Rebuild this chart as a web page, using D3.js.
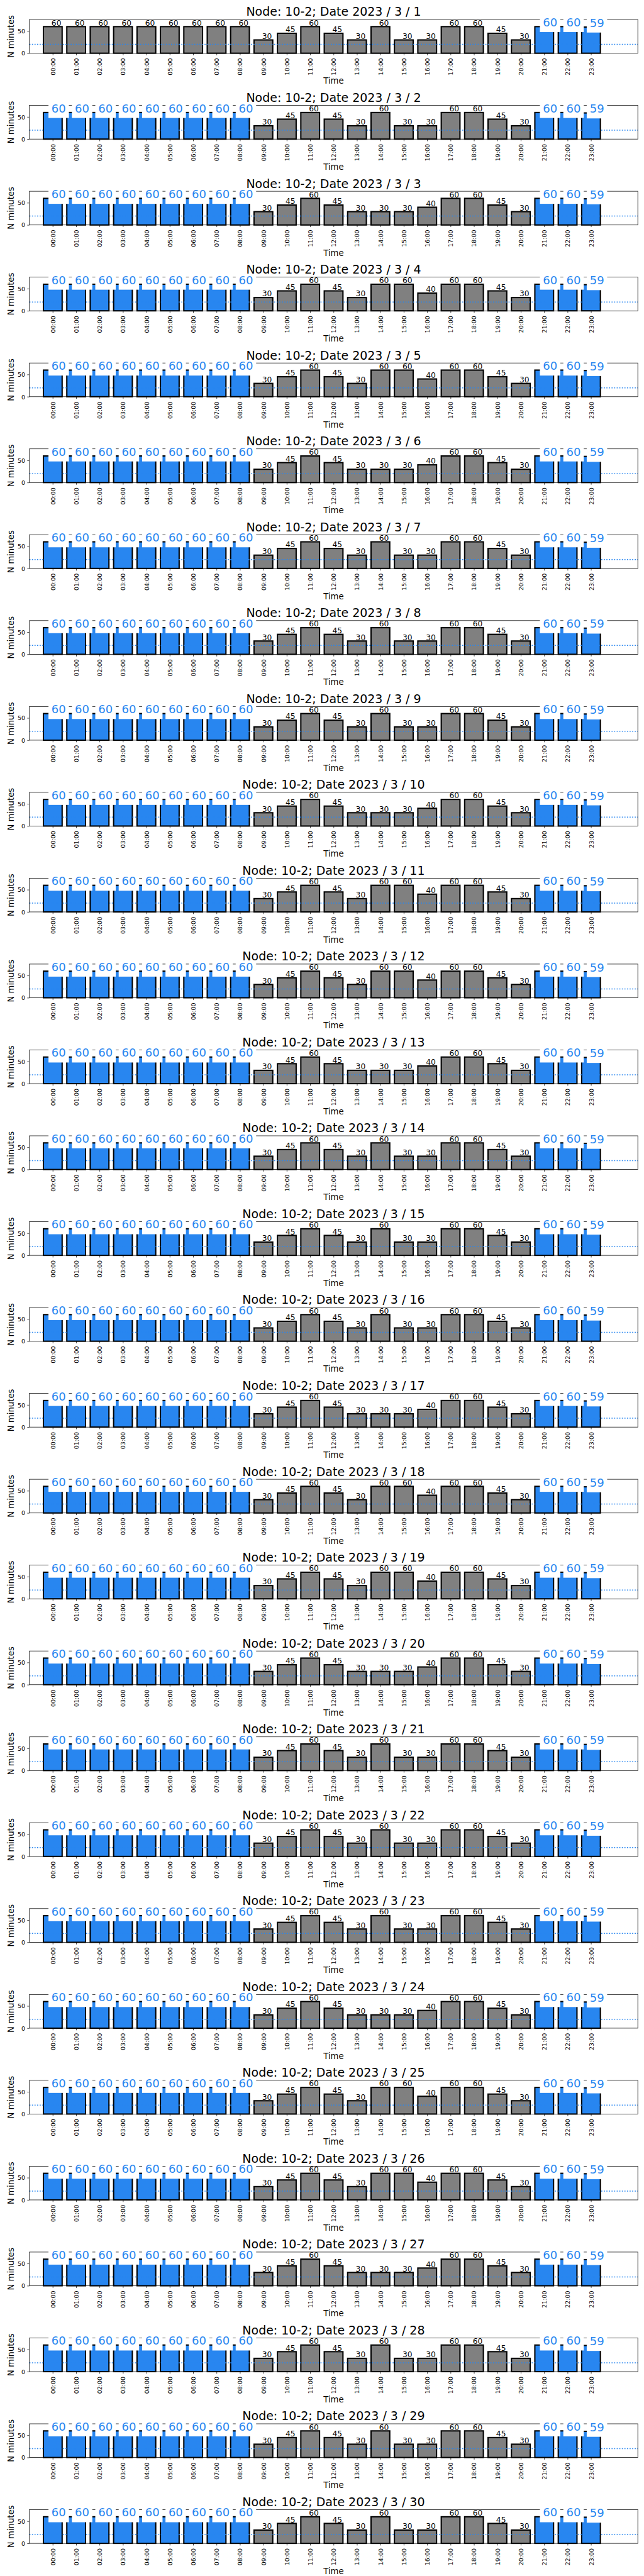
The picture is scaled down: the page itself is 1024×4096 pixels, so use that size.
<!DOCTYPE html>
<html><head><meta charset="utf-8">
<script src="https://cdn.jsdelivr.net/npm/d3@7"></script>
<style>
body{margin:0;background:#fff}
svg{display:block}
text{font-family:"DejaVu Sans",sans-serif}
</style>
</head><body>
<svg id="c" width="1024" height="4096"></svg>
<script>
// ---------- data ----------
const hourLabels = ["00:00","01:00","02:00","03:00","04:00","05:00","06:00","07:00","08:00","09:00","10:00","11:00",
                    "12:00","13:00","14:00","15:00","16:00","17:00","18:00","19:00","20:00","21:00","22:00","23:00"];
const node = "10-2";
const dates = ["2023 / 3 / 1","2023 / 3 / 2","2023 / 3 / 3","2023 / 3 / 4","2023 / 3 / 5","2023 / 3 / 6",
               "2023 / 3 / 7","2023 / 3 / 8","2023 / 3 / 9","2023 / 3 / 10","2023 / 3 / 11","2023 / 3 / 12",
               "2023 / 3 / 13","2023 / 3 / 14","2023 / 3 / 15","2023 / 3 / 16","2023 / 3 / 17","2023 / 3 / 18",
               "2023 / 3 / 19","2023 / 3 / 20","2023 / 3 / 21","2023 / 3 / 22","2023 / 3 / 23","2023 / 3 / 24",
               "2023 / 3 / 25","2023 / 3 / 26","2023 / 3 / 27","2023 / 3 / 28","2023 / 3 / 29","2023 / 3 / 30"];
// minutes per hour, one row per day
const minutes = [
 [60,60,60,60,60,60,60,60,60,30,45,60,45,30,60,30,30,60,60,45,30,60,60,59], // 1
 [60,60,60,60,60,60,60,60,60,30,45,60,45,30,60,30,30,60,60,45,30,60,60,59], // 2
 [60,60,60,60,60,60,60,60,60,30,45,60,45,30,30,30,40,60,60,45,30,60,60,59], // 3
 [60,60,60,60,60,60,60,60,60,30,45,60,45,30,60,60,40,60,60,45,30,60,60,59], // 4
 [60,60,60,60,60,60,60,60,60,30,45,60,45,30,60,60,40,60,60,45,30,60,60,59], // 5
 [60,60,60,60,60,60,60,60,60,30,45,60,45,30,30,30,40,60,60,45,30,60,60,59], // 6
 [60,60,60,60,60,60,60,60,60,30,45,60,45,30,60,30,30,60,60,45,30,60,60,59], // 7
 [60,60,60,60,60,60,60,60,60,30,45,60,45,30,60,30,30,60,60,45,30,60,60,59], // 8
 [60,60,60,60,60,60,60,60,60,30,45,60,45,30,60,30,30,60,60,45,30,60,60,59], // 9
 [60,60,60,60,60,60,60,60,60,30,45,60,45,30,30,30,40,60,60,45,30,60,60,59], // 10
 [60,60,60,60,60,60,60,60,60,30,45,60,45,30,60,60,40,60,60,45,30,60,60,59], // 11
 [60,60,60,60,60,60,60,60,60,30,45,60,45,30,60,60,40,60,60,45,30,60,60,59], // 12
 [60,60,60,60,60,60,60,60,60,30,45,60,45,30,30,30,40,60,60,45,30,60,60,59], // 13
 [60,60,60,60,60,60,60,60,60,30,45,60,45,30,60,30,30,60,60,45,30,60,60,59], // 14
 [60,60,60,60,60,60,60,60,60,30,45,60,45,30,60,30,30,60,60,45,30,60,60,59], // 15
 [60,60,60,60,60,60,60,60,60,30,45,60,45,30,60,30,30,60,60,45,30,60,60,59], // 16
 [60,60,60,60,60,60,60,60,60,30,45,60,45,30,30,30,40,60,60,45,30,60,60,59], // 17
 [60,60,60,60,60,60,60,60,60,30,45,60,45,30,60,60,40,60,60,45,30,60,60,59], // 18
 [60,60,60,60,60,60,60,60,60,30,45,60,45,30,60,60,40,60,60,45,30,60,60,59], // 19
 [60,60,60,60,60,60,60,60,60,30,45,60,45,30,30,30,40,60,60,45,30,60,60,59], // 20
 [60,60,60,60,60,60,60,60,60,30,45,60,45,30,60,30,30,60,60,45,30,60,60,59], // 21
 [60,60,60,60,60,60,60,60,60,30,45,60,45,30,60,30,30,60,60,45,30,60,60,59], // 22
 [60,60,60,60,60,60,60,60,60,30,45,60,45,30,60,30,30,60,60,45,30,60,60,59], // 23
 [60,60,60,60,60,60,60,60,60,30,45,60,45,30,30,30,40,60,60,45,30,60,60,59], // 24
 [60,60,60,60,60,60,60,60,60,30,45,60,45,30,60,60,40,60,60,45,30,60,60,59], // 25
 [60,60,60,60,60,60,60,60,60,30,45,60,45,30,60,60,40,60,60,45,30,60,60,59], // 26
 [60,60,60,60,60,60,60,60,60,30,45,60,45,30,30,30,40,60,60,45,30,60,60,59], // 27
 [60,60,60,60,60,60,60,60,60,30,45,60,45,30,60,30,30,60,60,45,30,60,60,59], // 28
 [60,60,60,60,60,60,60,60,60,30,45,60,45,30,60,30,30,60,60,45,30,60,60,59], // 29
 [60,60,60,60,60,60,60,60,60,30,45,60,45,30,60,30,30,60,60,45,30,60,60,59]  // 30
];
// 1 = highlighted (blue) hour, one row per day
const flagged = [
 [0,0,0,0,0,0,0,0,0,0,0,0,0,0,0,0,0,0,0,0,0,1,1,1],
 [1,1,1,1,1,1,1,1,1,0,0,0,0,0,0,0,0,0,0,0,0,1,1,1],
 [1,1,1,1,1,1,1,1,1,0,0,0,0,0,0,0,0,0,0,0,0,1,1,1],
 [1,1,1,1,1,1,1,1,1,0,0,0,0,0,0,0,0,0,0,0,0,1,1,1],
 [1,1,1,1,1,1,1,1,1,0,0,0,0,0,0,0,0,0,0,0,0,1,1,1],
 [1,1,1,1,1,1,1,1,1,0,0,0,0,0,0,0,0,0,0,0,0,1,1,1],
 [1,1,1,1,1,1,1,1,1,0,0,0,0,0,0,0,0,0,0,0,0,1,1,1],
 [1,1,1,1,1,1,1,1,1,0,0,0,0,0,0,0,0,0,0,0,0,1,1,1],
 [1,1,1,1,1,1,1,1,1,0,0,0,0,0,0,0,0,0,0,0,0,1,1,1],
 [1,1,1,1,1,1,1,1,1,0,0,0,0,0,0,0,0,0,0,0,0,1,1,1],
 [1,1,1,1,1,1,1,1,1,0,0,0,0,0,0,0,0,0,0,0,0,1,1,1],
 [1,1,1,1,1,1,1,1,1,0,0,0,0,0,0,0,0,0,0,0,0,1,1,1],
 [1,1,1,1,1,1,1,1,1,0,0,0,0,0,0,0,0,0,0,0,0,1,1,1],
 [1,1,1,1,1,1,1,1,1,0,0,0,0,0,0,0,0,0,0,0,0,1,1,1],
 [1,1,1,1,1,1,1,1,1,0,0,0,0,0,0,0,0,0,0,0,0,1,1,1],
 [1,1,1,1,1,1,1,1,1,0,0,0,0,0,0,0,0,0,0,0,0,1,1,1],
 [1,1,1,1,1,1,1,1,1,0,0,0,0,0,0,0,0,0,0,0,0,1,1,1],
 [1,1,1,1,1,1,1,1,1,0,0,0,0,0,0,0,0,0,0,0,0,1,1,1],
 [1,1,1,1,1,1,1,1,1,0,0,0,0,0,0,0,0,0,0,0,0,1,1,1],
 [1,1,1,1,1,1,1,1,1,0,0,0,0,0,0,0,0,0,0,0,0,1,1,1],
 [1,1,1,1,1,1,1,1,1,0,0,0,0,0,0,0,0,0,0,0,0,1,1,1],
 [1,1,1,1,1,1,1,1,1,0,0,0,0,0,0,0,0,0,0,0,0,1,1,1],
 [1,1,1,1,1,1,1,1,1,0,0,0,0,0,0,0,0,0,0,0,0,1,1,1],
 [1,1,1,1,1,1,1,1,1,0,0,0,0,0,0,0,0,0,0,0,0,1,1,1],
 [1,1,1,1,1,1,1,1,1,0,0,0,0,0,0,0,0,0,0,0,0,1,1,1],
 [1,1,1,1,1,1,1,1,1,0,0,0,0,0,0,0,0,0,0,0,0,1,1,1],
 [1,1,1,1,1,1,1,1,1,0,0,0,0,0,0,0,0,0,0,0,0,1,1,1],
 [1,1,1,1,1,1,1,1,1,0,0,0,0,0,0,0,0,0,0,0,0,1,1,1],
 [1,1,1,1,1,1,1,1,1,0,0,0,0,0,0,0,0,0,0,0,0,1,1,1],
 [1,1,1,1,1,1,1,1,1,0,0,0,0,0,0,0,0,0,0,0,0,1,1,1]
];
const thresholdLine = 20;
const yTicks = [0, 50];
const yMax = 76;

// ---------- layout (reference pixel units, scaled to window) ----------
const S = 1024 / 1500;
const PITCH = 200, AX_L = 68.4, AX_R = 1485.6, AX_T = 45.5, AX_B = 124;
const GRAY = "#808080", BLUE = "#2886f0";
const FONT = "DejaVu Sans";

const svg = d3.select("#c");
const root = svg.append("g").attr("transform", `scale(${S})`);
const x = d3.scaleLinear().domain([-1, 25]).range([AX_L, AX_R]);
const y = d3.scaleLinear().domain([0, yMax]).range([AX_B, AX_T]);
const BW = (x(1) - x(0)) * 0.8;

dates.forEach((date, d) => {
  const g = root.append("g").attr("transform", `translate(0,${d * PITCH})`);
  const data = minutes[d].map((v, i) => ({ i, v, f: flagged[d][i] }));

  // bars
  g.selectAll("rect.bar").data(data).join("rect").attr("class", "bar")
    .attr("x", p => x(p.i) - BW / 2).attr("y", p => y(p.v))
    .attr("width", BW).attr("height", p => y(0) - y(p.v))
    .attr("fill", p => p.f ? BLUE : GRAY)
    .attr("stroke", "#000").attr("stroke-width", 3);

  // threshold dotted line
  g.append("line").attr("x1", AX_L).attr("x2", AX_R)
    .attr("y1", y(thresholdLine)).attr("y2", y(thresholdLine))
    .attr("stroke", BLUE).attr("stroke-width", 2.2).attr("stroke-dasharray", "2.5,3.5");

  // frame
  g.append("rect").attr("x", AX_L).attr("y", AX_T).attr("width", AX_R - AX_L).attr("height", AX_B - AX_T)
    .attr("fill", "none").attr("stroke", "#000").attr("stroke-width", 1.1);

  // x axis
  const xa = g.append("g").attr("transform", `translate(0,${AX_B})`)
    .call(d3.axisBottom(x).tickValues(d3.range(24)).tickFormat(i => hourLabels[i]).tickSize(4.9).tickSizeOuter(0));
  xa.attr("font-family", FONT).attr("font-size", 13.9);
  xa.select(".domain").remove();
  xa.selectAll("line").attr("stroke-width", 1.1);
  xa.selectAll("text").attr("transform", "rotate(-90)").attr("text-anchor", "end")
    .attr("x", -11.5).attr("y", 0).attr("dy", "0.36em").attr("fill", "#000");

  // y axis
  const ya = g.append("g").attr("transform", `translate(${AX_L},0)`)
    .call(d3.axisLeft(y).tickValues(yTicks).tickSize(4.9).tickSizeOuter(0));
  ya.attr("font-family", FONT).attr("font-size", 13.9);
  ya.select(".domain").remove();
  ya.selectAll("line").attr("stroke-width", 1.1);
  ya.selectAll("text").attr("x", -9.8).attr("dy", "0.36em").attr("fill", "#000");

  // axis labels
  g.append("text").attr("transform", `translate(32.5,${(AX_T + AX_B) / 2}) rotate(-90)`)
    .attr("text-anchor", "middle").attr("font-size", 19.4).text("N minutes");
  g.append("text").attr("x", (AX_L + AX_R) / 2).attr("y", 195.5)
    .attr("text-anchor", "middle").attr("font-size", 19.4).text("Time");

  // value labels
  data.forEach(p => {
    if (!p.f) {
      g.append("text").attr("x", x(p.i) - 3).attr("y", y(p.v) - 2.5)
        .attr("font-size", 18).attr("fill", "#000").text(p.v);
    } else {
      const lg = g.append("g");
      const fs = 26.4, pad = 7;
      const bx = x(p.i) - 3, by = y(p.v) - 0.5;
      const r = lg.append("rect").attr("fill", "#fff");
      const t = lg.append("text").attr("x", bx).attr("y", by)
        .attr("font-size", fs).attr("fill", BLUE).text(p.v);
      const w = t.node().getComputedTextLength();
      r.attr("x", bx - pad).attr("width", w + 2 * pad)
        .attr("y", by - 0.93 * fs - pad).attr("height", 0.93 * fs + 0.236 * fs + 2 * pad);
    }
  });

  // title (drawn last so label boxes never hide it)
  g.append("text").attr("x", (AX_L + AX_R) / 2).attr("y", 37.3)
    .attr("text-anchor", "middle").attr("font-size", 27.8).attr("fill", "#000")
    .text(`Node: ${node}; Date ${date}`);
});
</script>
</body></html>
